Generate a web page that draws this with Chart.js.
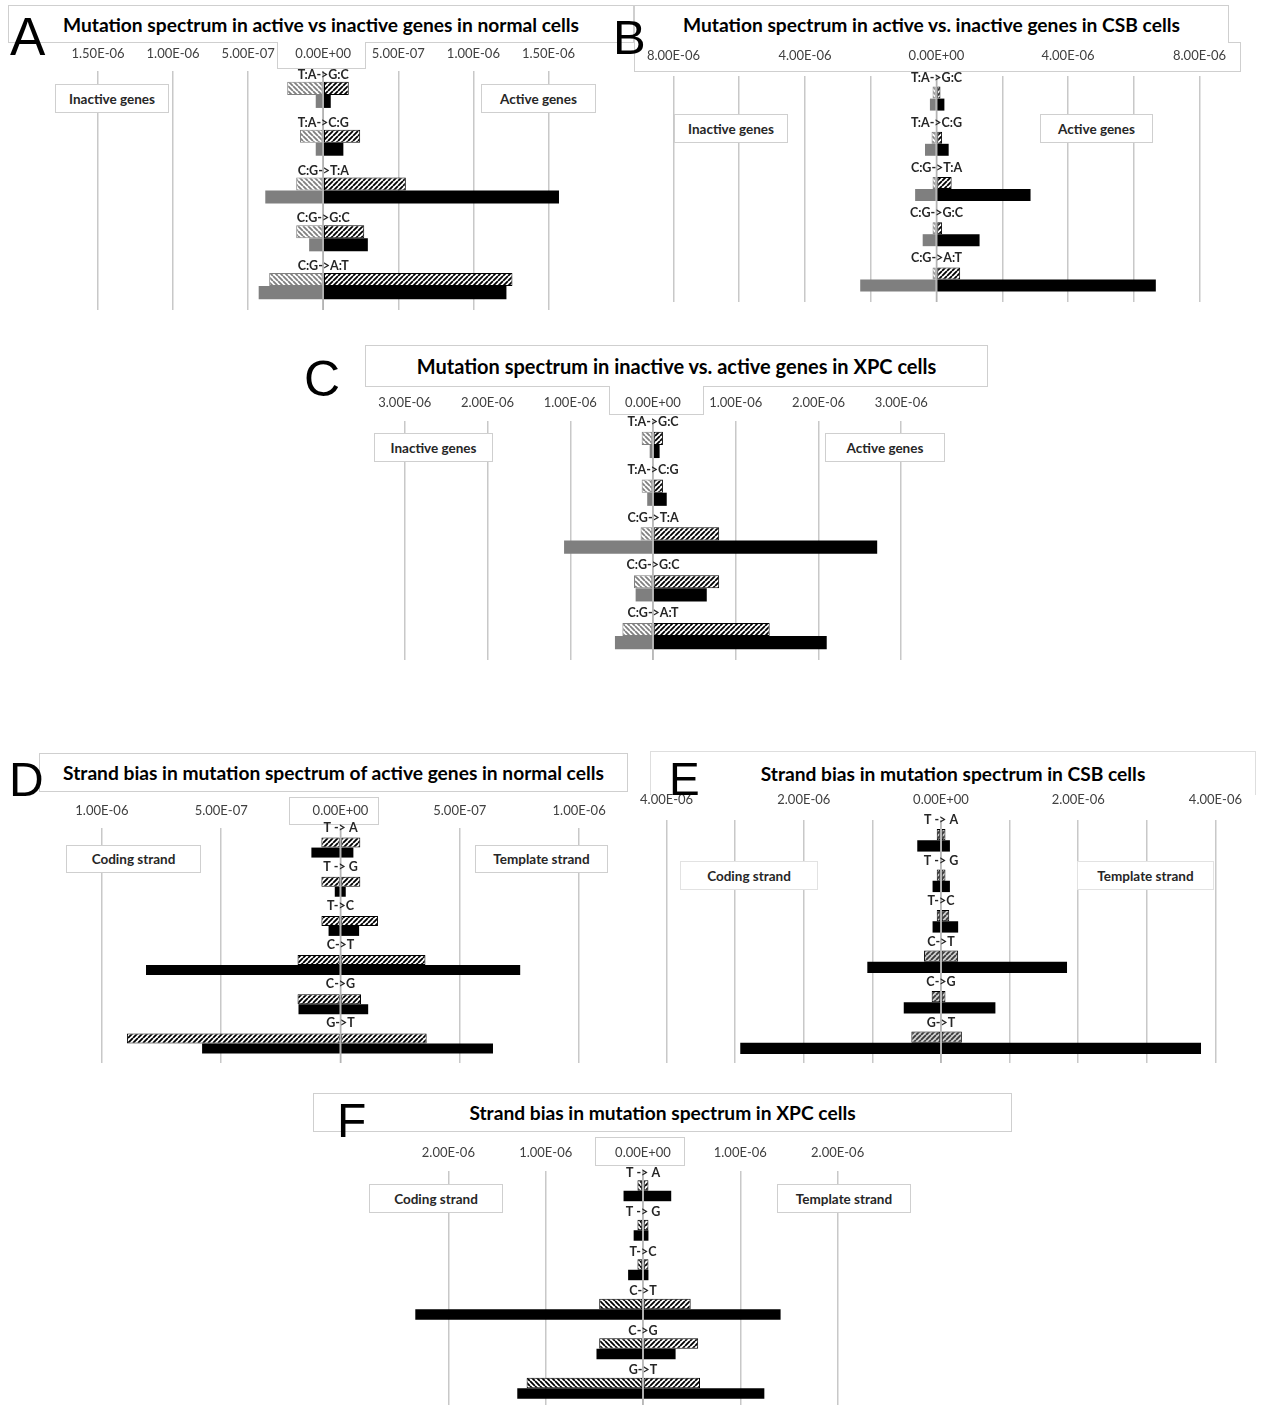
<!DOCTYPE html>
<html><head><meta charset="utf-8">
<script src="https://cdn.jsdelivr.net/npm/chart.js@4.4.1/dist/chart.umd.min.js"></script>
<style>
html,body{margin:0;padding:0;background:#fff;overflow:hidden;width:1262px;height:1405px;}
#root{position:relative;width:1262px;height:1405px;overflow:hidden;background:#fff;}
.box{position:absolute;box-sizing:border-box;border:1px solid #cfcfcf;background:#fff;}
.title{display:flex;align-items:center;justify-content:center;font-family:Lato,sans-serif;font-weight:700;font-size:19.2px;color:#000;z-index:0;white-space:nowrap;}
.legend{display:flex;align-items:center;justify-content:center;font-family:Lato,sans-serif;font-weight:700;font-size:13.5px;color:#262626;z-index:3;white-space:nowrap;}
.letter{position:absolute;font-family:'Liberation Sans',Arial,sans-serif;line-height:1;color:#000;z-index:4;}
canvas{position:absolute;z-index:2;}
</style></head><body><div id="root"></div>
<script>
// ---------------- data ----------------
const catsGenes = ['T:A->G:C', 'T:A->C:G', 'C:G->T:A', 'C:G->G:C', 'C:G->A:T'];
const catsStrand = ['T -> A', 'T -> G', 'T->C', 'C->T', 'C->G', 'G->T'];

// A: normal cells, inactive (left) vs active (right)
const A_inactiveHatched = [2.4e-7, 1.55e-7, 1.8e-7, 1.8e-7, 3.6e-7];
const A_activeHatched   = [1.7e-7, 2.46e-7, 5.5e-7, 2.73e-7, 1.26e-6];
const A_inactiveSolid   = [5.0e-8, 5.0e-8, 3.86e-7, 9.4e-8, 4.3e-7];
const A_activeSolid     = [5.0e-8, 1.34e-7, 1.57e-6, 2.97e-7, 1.22e-6];

// B: CSB cells
const B_inactiveHatched = [1.2e-7, 1.5e-7, 1.2e-7, 1.2e-7, 1.2e-7];
const B_activeHatched   = [1.2e-7, 1.7e-7, 4.6e-7, 1.7e-7, 7.2e-7];
const B_inactiveSolid   = [2.0e-7, 3.5e-7, 6.5e-7, 4.2e-7, 2.32e-6];
const B_activeSolid     = [2.4e-7, 3.7e-7, 2.86e-6, 1.31e-6, 6.67e-6];

// C: XPC cells
const C_inactiveHatched = [1.37e-7, 1.37e-7, 1.5e-7, 2.3e-7, 3.7e-7];
const C_activeHatched   = [1.2e-7, 1.2e-7, 8.0e-7, 8.0e-7, 1.41e-6];
const C_inactiveSolid   = [4.0e-8, 7.0e-8, 1.075e-6, 2.1e-7, 4.6e-7];
const C_activeSolid     = [8.0e-8, 1.66e-7, 2.71e-6, 6.5e-7, 2.1e-6];

// D: strand bias, active genes, normal cells (coding left, template right)
const D_codingHatched   = [8.0e-8, 8.0e-8, 8.0e-8, 1.8e-7, 1.8e-7, 8.95e-7];
const D_templateHatched = [8.3e-8, 8.3e-8, 1.57e-7, 3.56e-7, 8.6e-8, 3.61e-7];
const D_codingSolid     = [1.22e-7, 2.4e-8, 5.0e-8, 8.15e-7, 1.76e-7, 5.8e-7];
const D_templateSolid   = [5.4e-8, 2.2e-8, 7.8e-8, 7.53e-7, 1.16e-7, 6.39e-7];

// E: strand bias, CSB cells
const E_codingHatched   = [6.2e-8, 6.2e-8, 6.2e-8, 2.47e-7, 1.36e-7, 4.32e-7];
const E_templateHatched = [6.5e-8, 6.5e-8, 1.2e-7, 2.5e-7, 6.5e-8, 3.04e-7];
const E_codingSolid     = [3.46e-7, 1.23e-7, 1.23e-7, 1.074e-6, 5.43e-7, 2.926e-6];
const E_templateSolid   = [1.3e-7, 1.3e-7, 2.5e-7, 1.837e-6, 7.93e-7, 3.79e-6];

// F: strand bias, XPC cells
const F_codingHatched   = [5.7e-8, 5.7e-8, 5.7e-8, 4.5e-7, 4.5e-7, 1.196e-6];
const F_templateHatched = [5.6e-8, 5.6e-8, 5.6e-8, 4.9e-7, 5.67e-7, 5.86e-7];
const F_codingSolid     = [2.0e-7, 9.6e-8, 1.53e-7, 2.34e-6, 4.78e-7, 1.292e-6];
const F_templateSolid   = [2.9e-7, 5.6e-8, 5.6e-8, 1.414e-6, 3.35e-7, 1.247e-6];

// tick values (labels shown as absolute values)
const ticksA = [-1.5e-6, -1e-6, -5e-7, 0, 5e-7, 1e-6, 1.5e-6];
const ticksB = [-8e-6, -6e-6, -4e-6, -2e-6, 0, 2e-6, 4e-6, 6e-6, 8e-6];
const ticksC = [-3e-6, -2e-6, -1e-6, 0, 1e-6, 2e-6, 3e-6];
const ticksD = [-1e-6, -5e-7, 0, 5e-7, 1e-6];
const ticksE = [-4e-6, -3e-6, -2e-6, -1e-6, 0, 1e-6, 2e-6, 3e-6, 4e-6];
const ticksF = [-2e-6, -1e-6, 0, 1e-6, 2e-6];

const titles = {
  A: 'Mutation spectrum in active vs inactive genes in normal cells',
  B: 'Mutation spectrum in active vs. inactive genes in CSB cells',
  C: 'Mutation spectrum in inactive vs. active genes in XPC cells',
  D: 'Strand bias in mutation spectrum of active genes in normal cells',
  E: 'Strand bias in mutation spectrum in CSB cells',
  F: 'Strand bias in mutation spectrum in XPC cells'
};

// ---------------- helpers ----------------
const root = document.getElementById('root');
function div(cls, x, y, w, h, text, extra) {
  const d = document.createElement('div');
  d.className = cls;
  Object.assign(d.style, {left: x + 'px', top: y + 'px', width: w + 'px', height: h + 'px'}, extra || {});
  if (text) d.textContent = text;
  root.appendChild(d);
  return d;
}
function letter(t, x, baseline, fs) {
  const d = document.createElement('div');
  d.className = 'letter';
  d.textContent = t;
  d.style.fontSize = fs + 'px';
  d.style.left = x + 'px';
  d.style.top = (baseline - 0.8465 * fs) + 'px';
  root.appendChild(d);
}
function hatch(line, bg, forward) {
  const s = 5, c = document.createElement('canvas');
  c.width = c.height = s;
  const g = c.getContext('2d');
  g.fillStyle = bg; g.fillRect(0, 0, s, s);
  g.strokeStyle = line; g.lineWidth = 1.8; g.beginPath();
  for (let k = -1; k <= 1; k++) {
    if (forward) { g.moveTo(k * s, s); g.lineTo(k * s + s, 0); }
    else { g.moveTo(k * s, 0); g.lineTo(k * s + s, s); }
  }
  g.stroke();
  return g.createPattern(c, 'repeat');
}
function fmt(v) {
  if (Math.abs(v) < 1e-12) return '0.00E+00';
  const [m, e] = Math.abs(v).toExponential(2).split('e');
  const n = parseInt(e, 10);
  return m.toUpperCase() + 'E' + (n < 0 ? '-' : '+') + String(Math.abs(n)).padStart(2, '0');
}

const patGrayBack = hatch('#7f7f7f', '#ffffff', false);
const patBlackFwd = hatch('#000000', '#ffffff', true);
const patBlackBack = hatch('#000000', '#ffffff', false);
const patDarkFwd = hatch('#3a3a3a', '#cfcfcf', true);

const AXH = 45, PADX = 45, PADB = 4;

function panel(cfg) {
  const left = cfg.zero + cfg.min * cfg.ppu - PADX;
  const width = (cfg.max - cfg.min) * cfg.ppu + 2 * PADX;
  const top = cfg.top - AXH;
  const height = AXH + (cfg.bottom - cfg.top) + PADB;
  const cv = document.createElement('canvas');
  cv.width = Math.round(width); cv.height = Math.round(height);
  cv.style.left = left + 'px'; cv.style.top = top + 'px';
  root.appendChild(cv);
  const cp = cfg.cat;
  const mk = (label, data, sign, stack, bg, border, bw) => ({
    label, data: data.map(v => sign * v), stack, backgroundColor: bg,
    borderColor: border, borderWidth: bw, borderSkipped: false,
    barPercentage: 1, categoryPercentage: cp
  });
  const s = cfg.series, st = cfg.styles;
  const datasets = [
    mk(cfg.names[0], s[0], -1, 'h', st[0][0], st[0][1], st[0][2]),
    mk(cfg.names[1], s[1], 1, 'h', st[1][0], st[1][1], st[1][2]),
    mk(cfg.names[2], s[2], -1, 's', st[2][0], st[2][1], st[2][2]),
    mk(cfg.names[3], s[3], 1, 's', st[3][0], st[3][1], st[3][2])
  ];
  const overlay = {
    id: 'overlay' + cfg.id,
    afterDatasetsDraw(chart) {
      const {ctx, chartArea: a, scales: {x, y}} = chart;
      const x0 = x.getPixelForValue(0);
      ctx.save();
      ctx.strokeStyle = '#b4b4b4'; ctx.lineWidth = 1.5;
      ctx.beginPath(); ctx.moveTo(x0, a.top); ctx.lineTo(x0, a.bottom); ctx.stroke();
      ctx.fillStyle = '#262626';
      ctx.font = 'bold 12.5px Lato';
      ctx.textAlign = 'center'; ctx.textBaseline = 'middle';
      chart.data.labels.forEach((l, i) => ctx.fillText(l, x0, y.getPixelForValue(i) - cfg.labOff));
      ctx.restore();
    }
  };
  new Chart(cv, {
    type: 'bar',
    data: {labels: cfg.cats, datasets},
    plugins: [overlay],
    options: {
      indexAxis: 'y', responsive: false, animation: false, devicePixelRatio: 1,
      layout: {padding: {left: PADX, right: PADX, top: 0, bottom: PADB}},
      plugins: {legend: {display: false}, tooltip: {enabled: false}},
      scales: {
        x: {
          type: 'linear', position: 'top', min: cfg.min, max: cfg.max, stacked: true,
          afterBuildTicks: sc => { sc.ticks = cfg.ticks.map(v => ({value: v})); },
          afterFit: sc => { sc.height = AXH; },
          grid: {color: '#c8c8c8', lineWidth: 1.5, drawTicks: false},
          border: {display: false},
          ticks: {
            padding: cfg.pad, color: '#404040', font: {family: 'Lato', size: 13},
            maxRotation: 0, autoSkip: false,
            callback: v => {
              if (cfg.labelStep) {
                const r = v / cfg.labelStep;
                if (Math.abs(r - Math.round(r)) > 1e-6) return '';
              }
              return fmt(v);
            }
          }
        },
        y: {type: 'category', display: false}
      }
    }
  });
}

// ---------------- boxes ----------------
// A
div('box title', 8, 5, 626, 38, titles.A);
div('box', 277, 42, 89, 27, '', {borderTop: 'none'});
// B
div('box title', 634, 5, 595, 38, titles.B, {borderBottom: 'none'});
div('box', 634, 42, 607, 30, '', {borderTop: 'none'});
div('box', 1228, 42, 13, 1, '', {border: 'none', background: '#cfcfcf'});
// C
div('box title', 365, 345, 623, 42, titles.C, {fontSize: '20px'});
div('box', 609, 386, 95, 29, '', {borderTop: 'none'});
// D
div('box title', 39, 753, 589, 39, titles.D);
div('box', 289, 797, 90, 28, '');
// E
div('box title', 650, 751, 606, 44, titles.E, {borderBottom: 'none', borderColor: '#dedede'});
// F
div('box title', 313, 1093, 699, 39, titles.F);
div('box', 595, 1137, 90, 29, '');

// legend boxes
div('box legend', 55, 84, 114, 29, 'Inactive genes');
div('box legend', 481, 84, 115, 29, 'Active genes');
div('box legend', 674, 114, 114, 29, 'Inactive genes');
div('box legend', 1040, 114, 113, 29, 'Active genes');
div('box legend', 374, 433, 119, 29, 'Inactive genes');
div('box legend', 825, 433, 120, 29, 'Active genes');
div('box legend', 66, 845, 135, 28, 'Coding  strand');
div('box legend', 475, 845, 133, 28, 'Template  strand');
div('box legend', 680, 861, 138, 29, 'Coding strand', {borderColor: '#e2e2e2'});
div('box legend', 1077, 861, 137, 29, 'Template strand', {borderColor: '#e2e2e2'});
div('box legend', 369, 1184, 134, 29, 'Coding strand');
div('box legend', 777, 1184, 134, 29, 'Template strand');

// panel letters
letter('A', 10, 55, 53);
letter('B', 613, 54, 49);
letter('C', 304, 396, 50);
letter('D', 9, 797, 48);
letter('E', 669, 795, 46);
letter('F', 337, 1138, 48);

// ---------------- charts ----------------
const geneNames = ['Inactive genes (hatched)', 'Active genes (hatched)', 'Inactive genes', 'Active genes'];
const strandNames = ['Coding strand (hatched)', 'Template strand (hatched)', 'Coding strand', 'Template strand'];
const geneStyles = [[patGrayBack, '#7f7f7f', 1], [patBlackFwd, '#000', 1], ['#7f7f7f', '#7f7f7f', 0], ['#000', '#000', 0]];

panel({id: 'A', cats: catsGenes, names: geneNames, styles: geneStyles,
  series: [A_inactiveHatched, A_activeHatched, A_inactiveSolid, A_activeSolid],
  zero: 322.5, ppu: 1.5e8, min: -1.6e-6, max: 1.65e-6, ticks: ticksA,
  top: 71, bottom: 310, cat: 0.545, labOff: 20, pad: 9});
panel({id: 'B', cats: catsGenes, names: geneNames, styles: geneStyles,
  series: [B_inactiveHatched, B_activeHatched, B_inactiveSolid, B_activeSolid],
  zero: 937, ppu: 3.29e7, min: -8.5e-6, max: 8.5e-6, ticks: ticksB, labelStep: 4e-6,
  top: 76, bottom: 301.5, cat: 0.53, labOff: 21, pad: 12.5});
panel({id: 'C', cats: catsGenes, names: geneNames, styles: geneStyles,
  series: [C_inactiveHatched, C_activeHatched, C_inactiveSolid, C_activeSolid],
  zero: 653, ppu: 8.27e7, min: -3.3e-6, max: 3.3e-6, ticks: ticksC,
  top: 421, bottom: 660, cat: 0.55, labOff: 23, pad: 10.5});
panel({id: 'D', cats: catsStrand, names: strandNames,
  styles: [[patBlackFwd, '#000', 1], [patBlackFwd, '#000', 1], ['#000', '#000', 0], ['#000', '#000', 0]],
  series: [D_codingHatched, D_templateHatched, D_codingSolid, D_templateSolid],
  zero: 340.4, ppu: 2.385e8, min: -1.1e-6, max: 1.1e-6, ticks: ticksD,
  top: 828, bottom: 1063, cat: 0.51, labOff: 20, pad: 9.5});
panel({id: 'E', cats: catsStrand, names: strandNames,
  styles: [[patDarkFwd, '#000', 1], [patDarkFwd, '#000', 1], ['#000', '#000', 0], ['#000', '#000', 0]],
  series: [E_codingHatched, E_templateHatched, E_codingSolid, E_templateSolid],
  zero: 941, ppu: 6.86e7, min: -4.3e-6, max: 4.3e-6, ticks: ticksE, labelStep: 2e-6,
  top: 820, bottom: 1063, cat: 0.56, labOff: 20, pad: 12.3});
panel({id: 'F', cats: catsStrand, names: strandNames,
  styles: [[patBlackBack, '#000', 1], [patBlackFwd, '#000', 1], ['#000', '#000', 0], ['#000', '#000', 0]],
  series: [F_codingHatched, F_templateHatched, F_codingSolid, F_templateSolid],
  zero: 643, ppu: 9.74e7, min: -2.6e-6, max: 2.6e-6, ticks: ticksF,
  top: 1171, bottom: 1408, cat: 0.53, labOff: 18, pad: 10});
</script></body></html>
